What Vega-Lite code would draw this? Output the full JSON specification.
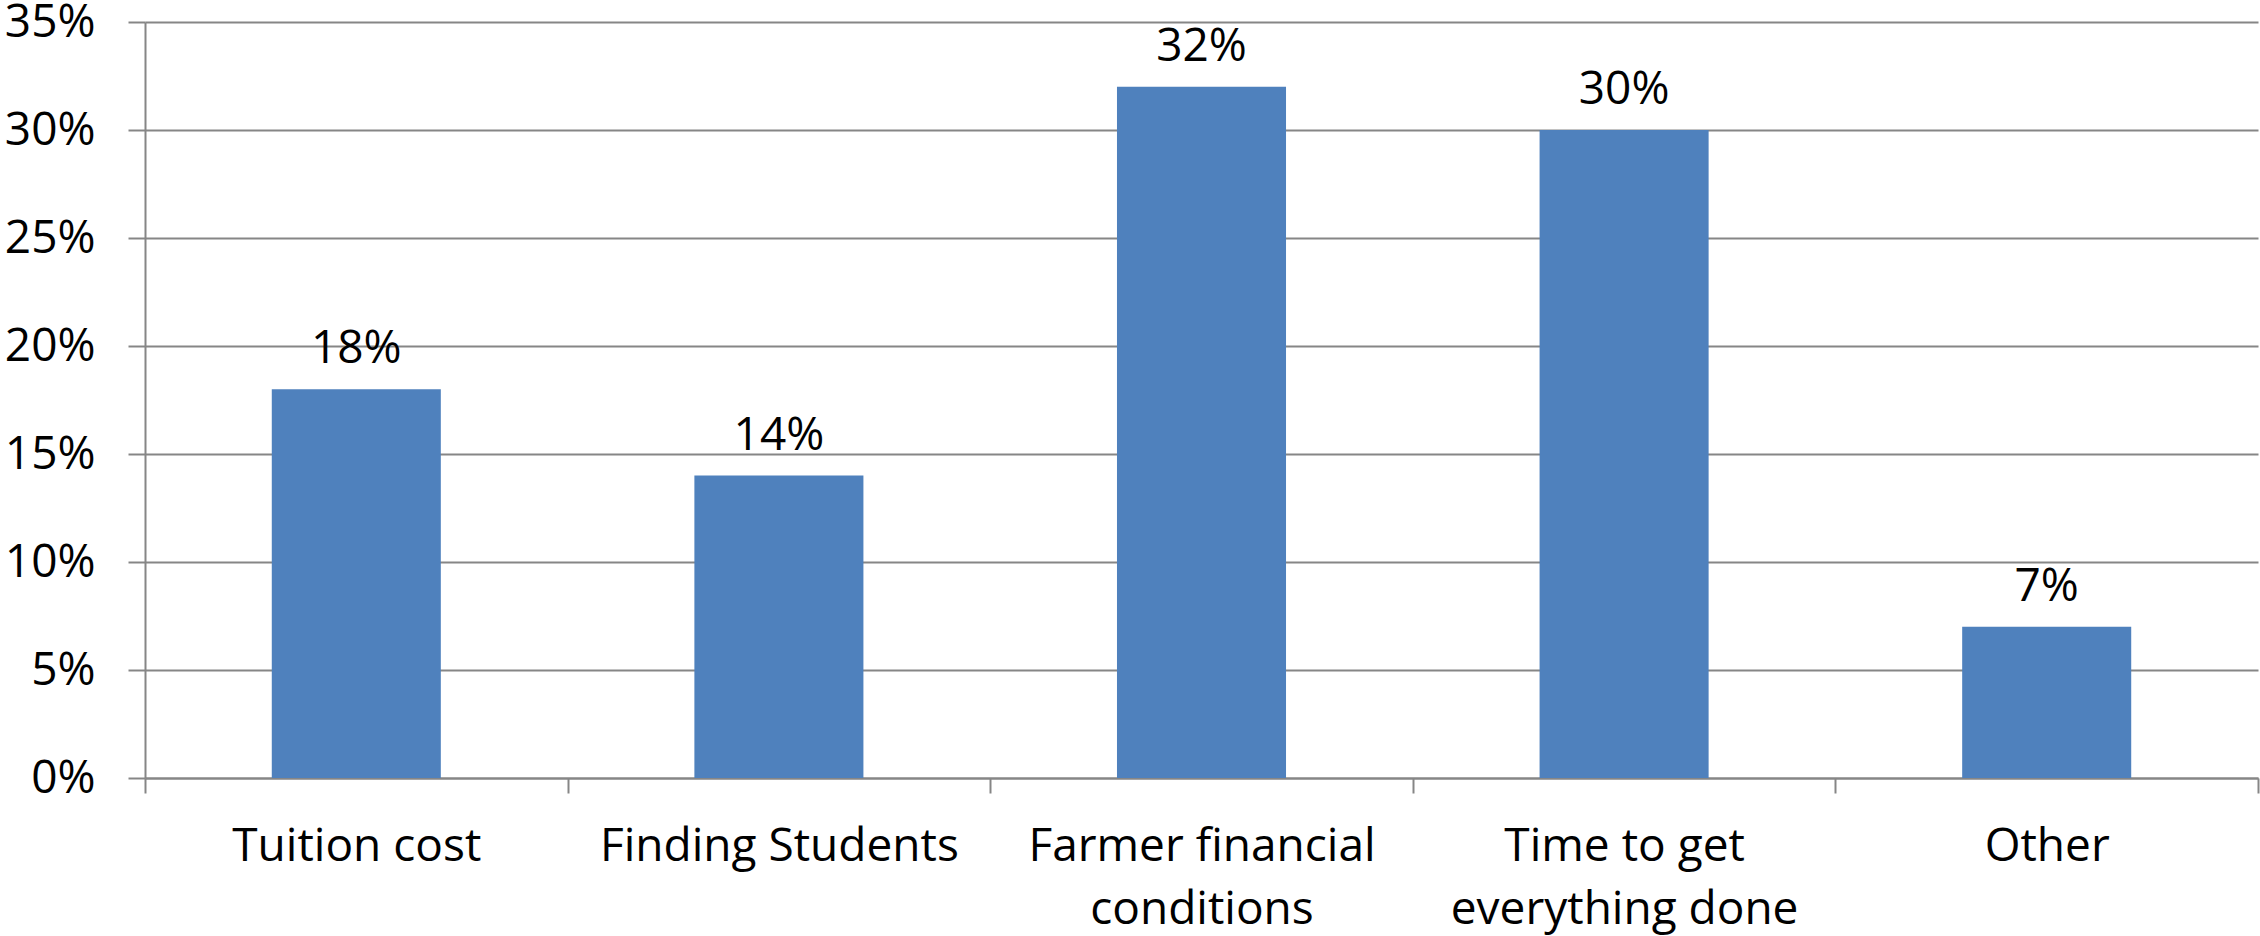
{
  "$schema": "https://vega.github.io/schema/vega-lite/v6.json",
  "autosize": {"type": "none"},
  "padding": {"left": 145, "top": 22, "right": 2, "bottom": 158},
  "width": 2113,
  "height": 756,
  "background": "white",
  "config": {
    "view": {"stroke": null},
    "font": "Open Sans"
  },
  "data": {
    "values": [
      {"category": "Tuition cost", "value": 0.18},
      {"category": "Finding Students", "value": 0.14},
      {"category": "Farmer financial conditions", "value": 0.32},
      {"category": "Time to get everything done", "value": 0.30},
      {"category": "Other", "value": 0.07}
    ]
  },
  "encoding": {
    "x": {
      "field": "category",
      "type": "nominal",
      "sort": null,
      "scale": {"paddingInner": 0, "paddingOuter": 0},
      "axis": {
        "title": null,
        "labelAngle": 0,
        "labelFont": "Open Sans",
        "labelFontSize": 46,
        "labelColor": "black",
        "labelLineHeight": 63,
        "labelPadding": 31,
        "labelBaseline": "top",
        "labelLimit": 0,
        "labelExpr": "datum.value == 'Farmer financial conditions' ? ['Farmer financial', 'conditions'] : datum.value == 'Time to get everything done' ? ['Time to get', 'everything done'] : datum.value",
        "tickBand": "extent",
        "tickSize": 15,
        "tickColor": "#868686",
        "tickWidth": 2,
        "domainColor": "#868686",
        "domainWidth": 2,
        "grid": false
      }
    },
    "y": {
      "field": "value",
      "type": "quantitative",
      "scale": {"domain": [0, 0.35], "nice": false},
      "axis": {
        "title": null,
        "format": ".0%",
        "values": [0, 0.05, 0.1, 0.15, 0.2, 0.25, 0.3, 0.35],
        "labelFont": "Open Sans",
        "labelFontSize": 46,
        "labelColor": "black",
        "labelPadding": 33,
        "tickSize": 17,
        "tickColor": "#868686",
        "tickWidth": 2,
        "domainColor": "#868686",
        "domainWidth": 2,
        "grid": true,
        "gridColor": "#868686",
        "gridWidth": 2
      }
    }
  },
  "layer": [
    {
      "mark": {"type": "bar", "color": "#4F81BD", "width": {"band": 0.4}}
    },
    {
      "mark": {
        "type": "text",
        "baseline": "bottom",
        "align": "center",
        "dy": -16,
        "fontSize": 46,
        "font": "Open Sans",
        "color": "black"
      },
      "encoding": {
        "text": {"field": "value", "type": "quantitative", "format": ".0%"}
      }
    }
  ]
}
